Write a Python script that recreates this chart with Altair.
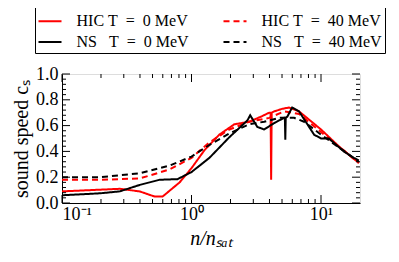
import altair as alt
import pandas as pd

# ---- data ----
ns0_n = [0.1, 0.196, 0.279, 0.398, 0.567, 0.78, 1.0, 1.375, 1.96, 2.70, 2.84, 3.22, 3.64, 4.35, 5.19, 5.26, 5.30, 5.34, 5.50, 5.98, 6.77, 8.84, 10.0, 11.5, 15.0, 17.9, 19.6]
ns0_c = [0.06, 0.075, 0.09, 0.14, 0.18, 0.185, 0.24, 0.35, 0.51, 0.64, 0.68, 0.59, 0.57, 0.62, 0.66, 0.66, 0.49, 0.66, 0.67, 0.74, 0.71, 0.53, 0.50, 0.50, 0.40, 0.35, 0.33]

hic0_n = [0.1, 0.279, 0.398, 0.519, 0.598, 0.81, 1.0, 1.26, 1.64, 2.14, 2.79, 3.45, 3.98, 4.08, 4.12, 4.16, 4.35, 5.01, 5.67, 6.77, 10.0, 13.7, 19.6]
hic0_c = [0.09, 0.11, 0.09, 0.05, 0.05, 0.16, 0.27, 0.41, 0.53, 0.61, 0.63, 0.67, 0.70, 0.70, 0.18, 0.70, 0.71, 0.73, 0.74, 0.71, 0.57, 0.44, 0.31]

hic40_n = [0.1, 0.196, 0.398, 0.677, 1.0, 1.375, 1.96, 2.79, 3.98, 5.19, 6.77, 10.0, 19.6]
hic40_c = [0.18, 0.18, 0.19, 0.26, 0.35, 0.47, 0.57, 0.63, 0.66, 0.71, 0.69, 0.55, 0.31]

ns40_n = [0.1, 0.196, 0.398, 0.677, 1.0, 1.375, 1.96, 2.79, 3.64, 4.75, 6.2, 7.4, 10.0, 19.6]
ns40_c = [0.20, 0.20, 0.23, 0.29, 0.36, 0.45, 0.54, 0.61, 0.63, 0.66, 0.66, 0.63, 0.53, 0.32]

S = "\u00a0"
lab_hic0 = "HIC" + S + "T" + S * 2 + "=" + S * 2 + "0" + S + "MeV"
lab_hic40 = "HIC" + S + "T" + S * 2 + "=" + S * 2 + "40" + S + "MeV"
lab_ns0 = "NS" + S * 3 + "T" + S * 2 + "=" + S * 2 + "0" + S + "MeV"
lab_ns40 = "NS" + S * 3 + "T" + S * 2 + "=" + S * 2 + "40" + S + "MeV"
# legend order (column-wise fill): col 1 = T=0, col 2 = T=40
labels = [lab_hic0, lab_ns0, lab_hic40, lab_ns40]
colors = ["#ff0000", "#000000", "#ff0000", "#000000"]
dashes = [[1, 0], [1, 0], [6, 4], [6, 4]]

x_major = [0.1, 1, 10]
x_minor = [0.2, 0.3, 0.4, 0.5, 0.6, 0.7, 0.8, 0.9, 2, 3, 4, 5, 6, 7, 8, 9]
y_major = [0.0, 0.2, 0.4, 0.6, 0.8, 1.0]
y_minor = [0.04, 0.08, 0.12, 0.16, 0.24, 0.28, 0.32, 0.36, 0.44, 0.48, 0.52, 0.56,
           0.64, 0.68, 0.72, 0.76, 0.84, 0.88, 0.92, 0.96]

# ---- build table ----
rows = []
for lab, ns, cs in [(lab_hic0, hic0_n, hic0_c), (lab_hic40, hic40_n, hic40_c),
                    (lab_ns0, ns0_n, ns0_c), (lab_ns40, ns40_n, ns40_c)]:
    for i, (a, b) in enumerate(zip(ns, cs)):
        rows.append({"series": lab, "n": a, "cs": b, "order": i})
df = pd.DataFrame(rows)

W, H = 298, 129
SERIF = "Liberation Serif"

xscale = alt.Scale(type="log", domain=[0.1, 20], nice=False)
yscale = alt.Scale(domain=[0, 1], nice=False)

xaxis = alt.Axis(title="n/nₛₐₜ", values=x_major, ticks=False, grid=False,
                 labelExpr="datum.value < 0.5 ? '10⁻¹' : (datum.value < 5 ? '10⁰' : '10¹')",
                 labelFont=SERIF, labelFontSize=18, labelColor="black", labelOverlap=False,
                 titleFont=SERIF, titleFontSize=20, titleFontWeight="normal",
                 titleFontStyle="italic", titleColor="black", titlePadding=5,
                 domainColor="black", labelPadding=2)
yaxis = alt.Axis(title="sound speed cₛ", values=y_major, format=".1f", ticks=False, grid=False,
                 labelFont=SERIF, labelFontSize=18, labelColor="black", labelOverlap=False,
                 titleFont=SERIF, titleFontSize=20, titleFontWeight="normal",
                 titleColor="black", titlePadding=4, domainColor="black", labelPadding=4)

lines = alt.Chart(df).mark_line(strokeWidth=2, clip=True).encode(
    x=alt.X("n:Q", scale=xscale, axis=xaxis),
    y=alt.Y("cs:Q", scale=yscale, axis=yaxis),
    color=alt.Color("series:N", scale=alt.Scale(domain=labels, range=colors),
                    legend=alt.Legend(title=None, orient="none", legendX=-27, legendY=-68,
                                      columns=2, symbolType="stroke", symbolStrokeWidth=2,
                                      symbolSize=529, labelFont=SERIF, labelFontSize=16,
                                      labelColor="black", strokeColor="black", padding=2.5,
                                      columnPadding=30, rowPadding=0, labelOffset=14,
                                      fillColor="white", cornerRadius=0, labelLimit=300)),
    strokeDash=alt.StrokeDash("series:N", scale=alt.Scale(domain=labels, range=dashes), legend=None),
    order="order:Q",
)

def tick_layer(vals, axis, side, length):
    d = pd.DataFrame({"v": vals})
    if axis == "x":
        if side == "bottom":
            enc = dict(x=alt.X("v:Q", scale=xscale, axis=xaxis), y=alt.value(H), y2=alt.value(H - length))
        else:
            enc = dict(x=alt.X("v:Q", scale=xscale, axis=xaxis), y=alt.value(0), y2=alt.value(length))
    else:
        if side == "left":
            enc = dict(y=alt.Y("v:Q", scale=yscale, axis=yaxis), x=alt.value(0), x2=alt.value(length))
        else:
            enc = dict(y=alt.Y("v:Q", scale=yscale, axis=yaxis), x=alt.value(W), x2=alt.value(W - length))
    return alt.Chart(d).mark_rule(color="black", strokeWidth=1).encode(**enc)

ticks = []
for side in ["bottom", "top"]:
    ticks.append(tick_layer(x_major, "x", side, 8))
    ticks.append(tick_layer(x_minor, "x", side, 4))
for side in ["left", "right"]:
    ticks.append(tick_layer(y_major, "y", side, 8))
    ticks.append(tick_layer(y_minor, "y", side, 4))

chart = alt.layer(lines, *ticks).properties(
    width=W, height=H,
    autosize=alt.AutoSizeParams(type="none"),
    padding={"left": 54, "top": 66, "right": 30, "bottom": 50},
).configure_view(stroke="black", strokeWidth=1.2).configure(background="white")

chart.save("out.html", embed_options={"renderer": "svg", "actions": False})
